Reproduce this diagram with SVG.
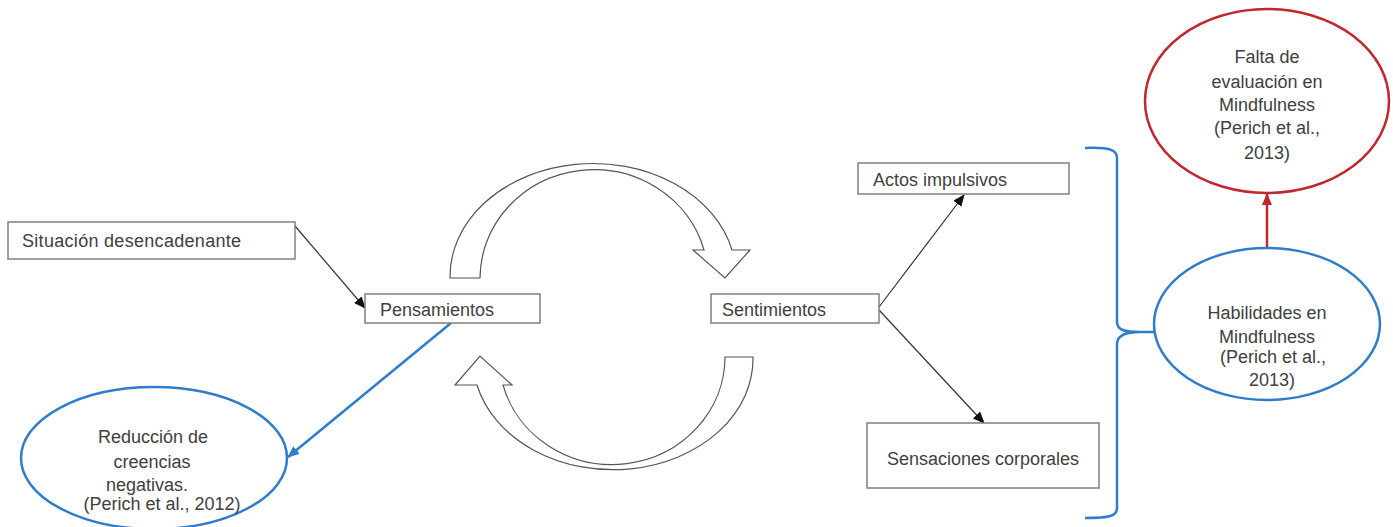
<svg xmlns="http://www.w3.org/2000/svg" width="1393" height="527" viewBox="0 0 1393 527">
<defs>
<style>
.box{fill:#fff;stroke:#7f7f7f;stroke-width:1.5}
.t{font-family:"Liberation Sans",Arial,sans-serif;font-size:18px;fill:#404040}
.m{text-anchor:middle}
.blk{stroke:#333;stroke-width:1.2;fill:none}
.blue{stroke:#2f7ccc;stroke-width:2.5;fill:none}
.red{stroke:#c0282d;stroke-width:2.5;fill:none}
.cyc{fill:#fff;stroke:#555;stroke-width:1.2}
</style>
<marker id="ab" markerWidth="12" markerHeight="10" refX="11" refY="5" orient="auto" markerUnits="userSpaceOnUse"><path d="M0,0 L12,5 L0,10 Z" fill="#111"/></marker>
<marker id="abl" markerWidth="12" markerHeight="10" refX="11" refY="5" orient="auto" markerUnits="userSpaceOnUse"><path d="M0,0 L12,5 L0,10 Z" fill="#2f7ccc"/></marker>
<marker id="ar" markerWidth="12" markerHeight="10" refX="11" refY="5" orient="auto" markerUnits="userSpaceOnUse"><path d="M0,0 L12,5 L0,10 Z" fill="#c0282d"/></marker>
</defs>
<rect width="1393" height="527" fill="#fff"/>

<g id="cycle">
<path class="cyc" d="M480,278 A114,109 0 0 1 704,250 L693,250 L725,278 L750,250 L732,250 A143,113 0 0 0 450,278 Z"/>
<path class="cyc" d="M725,357 A113,108 0 0 1 503,385 L512,385 L480,356 L455,385 L477,385 A140,111 0 0 0 753,357 Z"/>
</g>

<g id="connectors">
<line class="blk" x1="295" y1="226" x2="365" y2="308" marker-end="url(#ab)"/>
<line class="blk" x1="879" y1="307" x2="964" y2="195" marker-end="url(#ab)"/>
<line class="blk" x1="879" y1="310" x2="984" y2="423" marker-end="url(#ab)"/>
<line class="blue" x1="451" y1="323" x2="288" y2="457" marker-end="url(#abl)"/>
<line class="red" x1="1267" y1="248" x2="1267" y2="194" marker-end="url(#ar)"/>
<path class="blue" d="M1085,148 C1110,147 1117,150 1117,158 L1117,322 C1117,330 1125,332 1140,332 L1154,332 M1140,332 C1125,332 1117,336 1117,344 L1117,508 C1117,516 1110,518 1085,518"/>
</g>

<g id="situacion">
<rect class="box" x="8" y="222" width="287" height="37"/>
<text class="t" x="22" y="247" letter-spacing="0.3">Situación desencadenante</text>
</g>
<g id="pensamientos">
<rect class="box" x="365" y="294" width="175" height="29"/>
<text class="t" x="380" y="316">Pensamientos</text>
</g>
<g id="sentimientos">
<rect class="box" x="711" y="294" width="168" height="29"/>
<text class="t" x="722" y="316">Sentimientos</text>
</g>
<g id="actos">
<rect class="box" x="858" y="163" width="211" height="31"/>
<text class="t" x="873" y="186">Actos impulsivos</text>
</g>
<g id="sensaciones">
<rect class="box" x="867" y="423" width="232" height="65"/>
<text class="t m" x="983" y="465">Sensaciones corporales</text>
</g>
<g id="reduccion">
<ellipse class="blue" cx="154" cy="458" rx="133" ry="71"/>
<text class="t m" x="153" y="443">Reducción de</text>
<text class="t m" x="152" y="468">creencias</text>
<text class="t m" x="147" y="491">negativas.</text>
<text class="t m" x="162" y="510">(Perich et al., 2012)</text>
</g>
<g id="habilidades">
<ellipse class="blue" cx="1267" cy="324" rx="113" ry="76"/>
<text class="t m" x="1267" y="319">Habilidades en</text>
<text class="t m" x="1267" y="343">Mindfulness</text>
<text class="t m" x="1273" y="363">(Perich et al.,</text>
<text class="t m" x="1272" y="386">2013)</text>
</g>
<g id="falta">
<ellipse class="red" cx="1267" cy="101" rx="122" ry="92"/>
<text class="t m" x="1267" y="63">Falta de</text>
<text class="t m" x="1267" y="88">evaluación en</text>
<text class="t m" x="1267" y="111">Mindfulness</text>
<text class="t m" x="1267" y="134">(Perich et al.,</text>
<text class="t m" x="1267" y="159">2013)</text>
</g>
</svg>
